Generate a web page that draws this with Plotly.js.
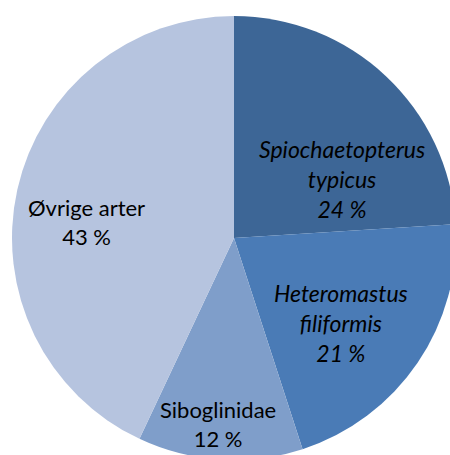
<!DOCTYPE html>
<html>
<head>
<meta charset="utf-8">
<script src="https://cdn.plot.ly/plotly-3.0.1.min.js"></script>
<style>
html,body{margin:0;padding:0;overflow:hidden;background:#fff;}
#chart{width:470px;height:475px;}
</style>
</head>
<body>
<div id="chart"></div>
<script>
// Data
var labels = ["Spiochaetopterus typicus", "Heteromastus filiformis", "Siboglinidae", "Øvrige arter"];
var labelLines = ["Spiochaetopterus<br>typicus", "Heteromastus<br>filiformis", "Siboglinidae", "Øvrige arter"];
var values = [24, 21, 12, 43];
var italic = [true, true, false, false];

// Styles / layout
var colors = ["#3D6696", "#4A7BB6", "#7F9ECA", "#B6C4DF"];
var W = 470, H = 475;
var cx = 234, cy = 238, R = 222;
var labelPos = [[342, 179], [341, 323], [218, 424], [86, 222]];
var fontSizes = [23, 23, 22, 22];

var total = values.reduce(function(a,b){return a+b;}, 0);
var annotations = labels.map(function(l, i){
  var pct = Math.round(values[i] / total * 100) + " %";
  var txt = labelLines[i] + "<br>" + pct;
  if (italic[i]) txt = "<i>" + txt + "</i>";
  return {
    xref: "paper", yref: "paper",
    x: labelPos[i][0] / W, y: 1 - labelPos[i][1] / H,
    xanchor: "center", yanchor: "middle",
    text: txt, showarrow: false, align: "center",
    font: {family: "Lato, sans-serif", size: fontSizes[i], color: "#000"}
  };
});

var trace = {
  type: "pie",
  labels: labels,
  values: values,
  sort: false,
  direction: "clockwise",
  rotation: 0,
  textinfo: "none",
  hoverinfo: "label+percent",
  marker: {colors: colors, line: {width: 0}},
  domain: {x: [(cx - R) / W, (cx + R) / W], y: [1 - (cy + R) / H, 1 - (cy - R) / H]}
};

var layout = {
  width: W, height: H,
  margin: {l: 0, r: 0, t: 0, b: 0},
  showlegend: false,
  paper_bgcolor: "#fff",
  annotations: annotations
};

Plotly.newPlot("chart", [trace], layout, {staticPlot: true, displayModeBar: false});
</script>
</body>
</html>
